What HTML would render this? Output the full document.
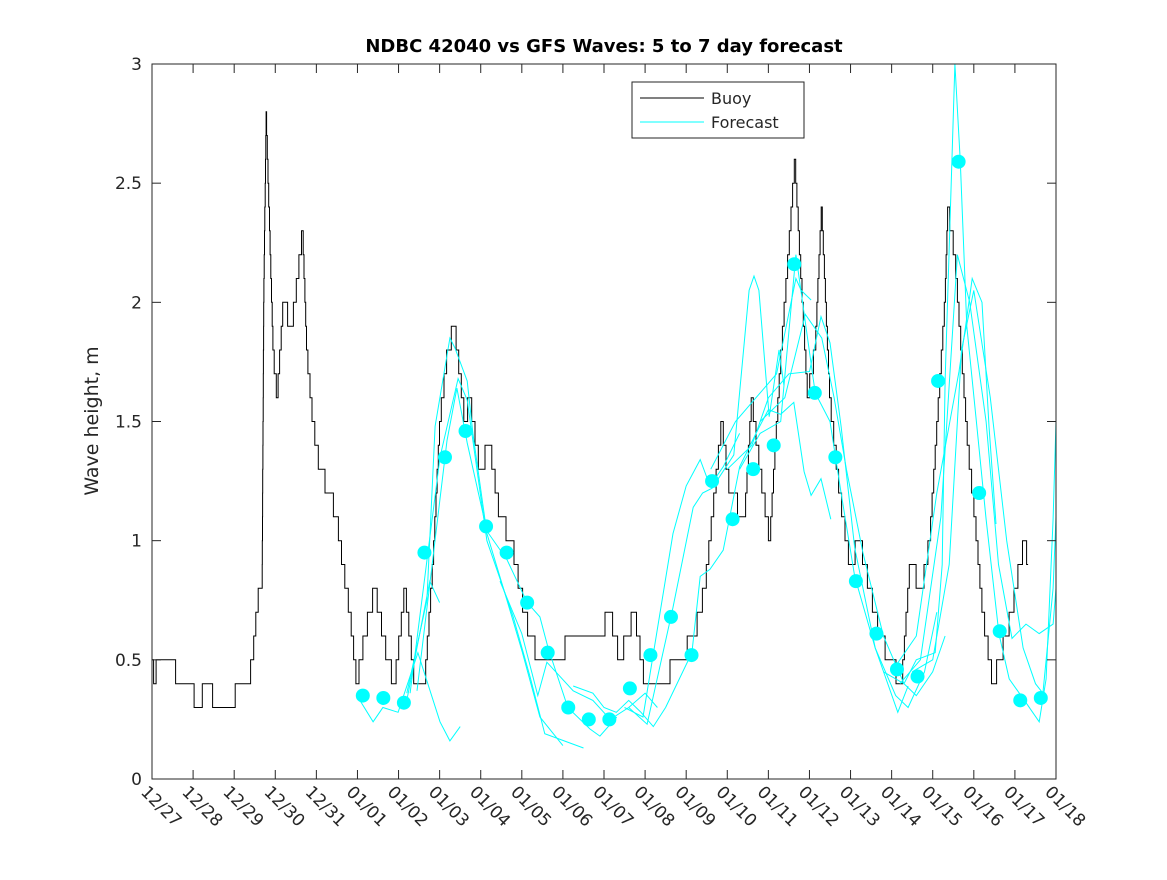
<!DOCTYPE html>
<html><head><meta charset="utf-8"><style>
body{margin:0;background:#fff;}
svg text{font-family:"DejaVu Sans","Liberation Sans",sans-serif;}
</style></head><body>
<svg id="chart" width="1167" height="875" xmlns="http://www.w3.org/2000/svg">
<rect width="1167" height="875" fill="#fff"/>
<text x="604" y="52" text-anchor="middle" font-size="18" font-weight="bold">NDBC 42040 vs GFS Waves: 5 to 7 day forecast</text>
<text transform="translate(98,421) rotate(-90)" text-anchor="middle" font-size="19" fill="#262626">Wave height, m</text>
<g id="series"></g>
<g id="axes"></g>
<g>
<rect x="632" y="82" width="172" height="56" fill="#fff" stroke="#262626" stroke-width="1"/>
<line x1="640" y1="98" x2="704" y2="98" stroke="#000" stroke-width="1"/>
<text x="711" y="104" font-size="16" fill="#262626">Buoy</text>
<line x1="640" y1="122" x2="704" y2="122" stroke="#00ffff" stroke-width="1"/>
<text x="711" y="128" font-size="16" fill="#262626">Forecast</text>
</g>
</svg>
<script>
const xTickLabels=["12/27","12/28","12/29","12/30","12/31","01/01","01/02","01/03","01/04","01/05","01/06","01/07","01/08","01/09","01/10","01/11","01/12","01/13","01/14","01/15","01/16","01/17","01/18"];
const yTicks=[0,0.5,1,1.5,2,2.5,3];
const buoyDays=[0,0.08,0.12,0.55,0.6,1.0,1.05,1.2,1.25,1.45,1.5,2.0,2.05,2.35,2.45,2.55,2.62,2.68,2.72,2.78,2.85,2.95,3.05,3.2,3.4,3.48,3.67,3.77,3.92,4.09,4.33,4.5,4.65,4.82,4.99,5.18,5.43,5.74,5.91,6.16,6.4,6.64,6.84,7.01,7.2,7.37,7.62,7.74,7.98,8.23,8.47,8.76,8.96,9.2,9.44,9.93,10.17,10.9,11.15,11.39,11.75,12.0,12.36,12.85,13.2,13.46,13.7,13.87,14.07,14.43,14.6,14.8,15.04,15.28,15.53,15.65,15.77,15.96,16.14,16.3,16.5,16.74,16.99,17.23,17.47,17.72,17.96,18.25,18.45,18.74,18.93,19.3,19.37,19.54,19.74,19.86,20.03,20.22,20.39,20.47,20.64,20.93,21.12,21.25,21.32];
const buoyVals=[0.5,0.4,0.5,0.5,0.4,0.4,0.3,0.3,0.4,0.4,0.3,0.3,0.4,0.4,0.5,0.7,0.8,0.8,2.0,2.8,2.4,1.8,1.6,2.0,1.9,2.0,2.3,1.8,1.5,1.3,1.2,1.1,0.9,0.7,0.4,0.6,0.8,0.5,0.4,0.8,0.4,0.4,0.9,1.5,1.8,1.9,1.5,1.6,1.3,1.4,1.1,1.0,0.8,0.6,0.5,0.5,0.6,0.6,0.7,0.5,0.7,0.4,0.4,0.5,0.6,0.8,1.2,1.5,1.2,1.1,1.6,1.3,1.0,1.7,2.3,2.6,2.2,1.6,1.8,2.4,1.6,1.2,0.9,1.0,0.8,0.6,0.5,0.4,0.9,0.8,1.0,2.0,2.4,2.2,1.7,1.4,1.1,0.7,0.5,0.4,0.5,0.7,0.9,1.0,0.9];
const dotStart=5.13;
const dotVals=[0.35,0.34,0.32,0.95,1.35,1.46,1.06,0.95,0.74,0.53,0.30,0.25,0.25,0.38,0.52,0.68,0.52,1.25,1.09,1.30,1.40,2.16,1.62,1.35,0.83,0.61,0.46,0.43,1.67,2.59,1.20,0.62,0.33,0.34];
const fcDays=[
[4.99,5.38,5.62,5.99,6.47,7.01,7.25,7.5],
[6.2,6.76,7.0],
[6.2,6.69,6.89,7.25,7.37,7.67,7.81,8.15,8.64,9.0,9.44,10.0],
[6.28,7.01,7.45,7.67,8.15,8.79,9.2,9.56,10.5],
[6.45,7.18,7.42,7.67,8.15,8.64,9.13,9.44,9.64,10.12,10.66,10.9,11.31],
[8.47,9.0,9.39,9.61,10.25,10.73,11.15,11.6,12.0,12.3],
[10.25,10.73,11.0,11.3,11.6,11.9,12.2,12.5],
[11.5,11.95,12.68,13.0,13.34,13.58,13.9,14.3],
[11.6,12.05,12.68,13.17,13.4,13.63,14.16,14.53,14.65,14.77,15.02,15.26,15.38],
[12.5,13.14,13.34,13.58,13.9,14.3,14.7,15.0,15.3,15.62,15.87,16.04,16.28,16.52],
[13.6,14.2,14.7,15.2,15.67,15.8,16.04],
[14.0,14.6,15.0,15.5,16.0,16.28,16.5,16.77,17.1,17.6,18.15,18.4],
[14.3,14.8,15.3,15.67,16.14,16.5,16.77,17.1,17.6,18.1,18.4,18.8,19.1],
[14.8,15.4,15.9,16.3,16.6,16.9,17.3,17.8,18.3,18.6,19.0,19.3],
[17.8,18.3,18.6,19.06,19.23,19.3,19.54,19.67,19.83,20.05,20.3,20.61,20.86,21.27,21.59,21.76,21.93,22.0],
[18.0,18.6,19.1,19.64,19.8,19.96,20.2,20.37,20.54],
[18.2,18.7,19.2,19.6,19.9,20.3,20.6,20.93,21.27,21.59,21.93,22.0],
[18.5,19.0,19.4,19.7,20.0,20.4,20.8,21.2,21.5,21.68,21.93,22.0]
];
const fcVals=[
[0.35,0.24,0.30,0.28,0.53,0.24,0.16,0.22],
[0.33,0.83,0.74],
[0.36,0.75,1.48,1.85,1.81,1.67,1.45,1.03,0.75,0.54,0.26,0.14],
[0.36,1.35,1.68,1.59,1.0,0.68,0.43,0.19,0.13],
[0.37,1.42,1.64,1.41,1.04,0.92,0.74,0.68,0.55,0.30,0.21,0.18,0.26],
[0.83,0.61,0.35,0.49,0.37,0.33,0.25,0.3,0.36,0.3],
[0.39,0.36,0.3,0.28,0.33,0.28,0.22,0.3],
[0.3,0.26,1.03,1.23,1.34,1.23,1.31,1.45],
[0.3,0.23,0.72,1.14,1.2,1.22,1.36,2.05,2.11,2.05,1.52,1.80,1.65],
[0.3,0.53,0.85,0.88,0.96,1.31,1.45,1.55,1.53,1.58,1.29,1.19,1.26,1.09],
[1.3,1.5,1.6,1.7,2.1,2.05,2.01],
[1.3,1.4,1.6,1.7,1.71,1.94,1.83,1.48,0.97,0.55,0.28,0.39],
[1.3,1.45,1.5,2.2,1.62,1.5,1.2,0.85,0.55,0.35,0.3,0.45,0.7],
[1.5,1.6,1.95,1.85,1.6,1.3,0.95,0.6,0.4,0.35,0.45,0.6],
[0.45,0.4,0.5,0.53,0.9,1.67,3.0,2.59,1.9,1.52,1.09,0.61,0.42,0.32,0.24,0.42,1.09,1.5],
[0.45,0.6,1.2,1.71,1.90,2.1,2.0,1.48,1.07],
[0.4,0.5,1.1,2.2,2.0,1.5,0.9,0.59,0.65,0.61,0.65,0.8],
[0.45,0.5,0.9,1.8,2.05,1.6,1.0,0.55,0.4,0.36,0.8,1.1]
];
const X0=152,X1=1056,Y0=779,Y1=64,NS="http://www.w3.org/2000/svg";
const xs=d=>X0+(X1-X0)*d/22;
const ys=v=>Y0-(Y0-Y1)*v/3;
function mk(tag,attrs,parent){const e=document.createElementNS(NS,tag);for(const k in attrs)e.setAttribute(k,attrs[k]);parent.appendChild(e);return e;}
const axes=document.getElementById('axes'),series=document.getElementById('series');
let p="M"+xs(buoyDays[0]).toFixed(1)+","+ys(buoyVals[0]).toFixed(1);
for(let i=1;i<buoyDays.length;i++){
 const a=buoyVals[i-1],b=buoyVals[i],t0=buoyDays[i-1],t1=buoyDays[i];
 const n=Math.max(1,Math.round(Math.abs(b-a)/0.1));
 for(let k=1;k<=n;k++){
  const tx=xs(t0+(t1-t0)*(k-0.5)/n);
  const prev=a+(b-a)*(k-1)/n,next=a+(b-a)*k/n;
  p+="L"+tx.toFixed(1)+","+ys(prev).toFixed(1)+"L"+tx.toFixed(1)+","+ys(next).toFixed(1);
 }
 p+="L"+xs(t1).toFixed(1)+","+ys(b).toFixed(1);
}
const bl=mk('path',{d:p,fill:"none",stroke:"#000","stroke-width":1},series);


fcVals.forEach((vals,j)=>{
 let d="";vals.forEach((v,i)=>{d+=(i?"L":"M")+xs(fcDays[j][i]).toFixed(1)+","+ys(v).toFixed(1);});
 const l=mk('path',{d:d,fill:"none",stroke:"#00ffff","stroke-width":1},series);
 
 
});
dotVals.forEach((v,i)=>{
 const c=mk('circle',{cx:xs(dotStart+0.5*i),cy:ys(v),r:7,fill:"#00ffff"},series);
 
 
});
const fr=mk('rect',{x:X0,y:Y1,width:X1-X0,height:Y0-Y1,fill:"none",stroke:"#262626","stroke-width":1},axes);


yTicks.forEach(t=>{
 const y=ys(t);
 mk('line',{x1:X0,y1:y,x2:X0+9,y2:y,stroke:"#262626"},axes);
 mk('line',{x1:X1,y1:y,x2:X1-9,y2:y,stroke:"#262626"},axes);
 const tx=mk('text',{x:X0-10,y:y+6,"text-anchor":"end","font-size":17,fill:"#262626"},axes);
 tx.textContent=String(t);
 
 
});
xTickLabels.forEach((s,i)=>{
 const x=xs(i);
 mk('line',{x1:x,y1:Y0,x2:x,y2:Y0-9,stroke:"#262626"},axes);
 mk('line',{x1:x,y1:Y1,x2:x,y2:Y1+9,stroke:"#262626"},axes);
 const tx=mk('text',{transform:`translate(${x-12},${Y0+14}) rotate(45)`,"font-size":17,fill:"#262626"},axes);
 tx.textContent=s;
 
 
});
</script>
</body></html>
